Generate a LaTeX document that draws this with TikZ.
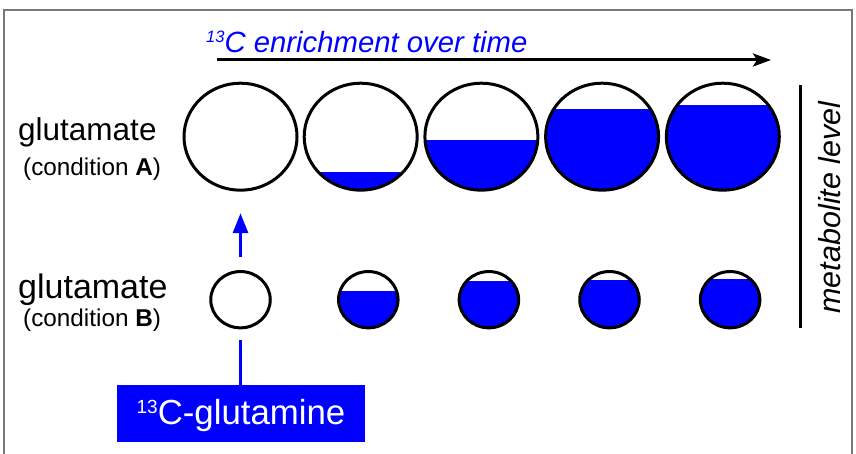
\documentclass[tikz,border=0pt]{standalone}
\usepackage{fontspec}
\setmainfont{Liberation Sans}
\usetikzlibrary{shapes.geometric,arrows.meta}
\definecolor{pureblue}{RGB}{0,0,255}
\definecolor{framegray}{RGB}{120,120,120}
\begin{document}
\begin{tikzpicture}[x=1pt,y=1pt,
  cellA/.style={ellipse, draw, line width=3pt, inner sep=0pt, minimum width=113pt, minimum height=107pt},
  cellB/.style={ellipse, draw, line width=3pt, inner sep=0pt, minimum width=59.5pt, minimum height=56.3pt},
  level/.style={path picture={\fill[pureblue] ([xshift=-5pt]path picture bounding box.south west) rectangle ([xshift=5pt,yshift=#1pt]path picture bounding box.south east);}},
  lbl/.style={anchor=base west, inner sep=0pt, text=black},
  bluelink/.style={pureblue, line width=3pt}
]
\useasboundingbox (0,0) rectangle (856,454);
\draw[framegray, line width=2pt] (4,-5) -- (4,444) -- (852,444) -- (852,-5);

% title and time arrow
\node[anchor=base west, inner sep=0pt, text=pureblue, font=\fontsize{29.3}{31}\selectfont\itshape] (title) at (206,401.5)
  {\raisebox{10pt}{\fontsize{16.5}{16.5}\selectfont 13}C enrichment over time};
\coordinate (ts) at (217,394);
\coordinate (te) at (771,394);
\draw[line width=3pt, -{Stealth[length=18pt,width=13pt,inset=4pt]}] (ts) -- (te);

% row labels
\node[lbl, font=\fontsize{31.5}{34}\selectfont] (gA) at (18,313) {glutamate};
\node[lbl, font=\fontsize{24.3}{26}\selectfont] (cA) at (23,278) {(condition \textbf{A})};
\node[lbl, font=\fontsize{34}{36}\selectfont] (gB) at (18,155) {glutamate};
\node[lbl, font=\fontsize{24.3}{26}\selectfont] (cB) at (23,127) {(condition \textbf{B})};

% condition A circles
\node[cellA] (A1) at (240.5,317.3) {};
\node[cellA, level=18.5] (A2) at (360.7,317.3) {};
\node[cellA, level=50.2] (A3) at (481.4,317.3) {};
\node[cellA, level=80.9] (A4) at (602.1,317.3) {};
\node[cellA, level=85.2] (A5) at (722.8,317.3) {};

% condition B circles
\node[cellB] (B1) at (240.5,154.3) {};
\node[cellB, level=36.8] (B2) at (368.3,154.3) {};
\node[cellB, level=46.8] (B3) at (488.9,154.3) {};
\node[cellB, level=47.8] (B4) at (609.5,154.3) {};
\node[cellB, level=49.1] (B5) at (730.1,154.3) {};

% metabolite level
\coordinate (v0) at (800,369);
\coordinate (v1) at (800,125.7);
\draw[line width=3pt] (v0) -- (v1);
\node[rotate=90, anchor=base, inner sep=0pt, font=\fontsize{30.5}{32}\selectfont\itshape] (met) at (840.5,246.5) {metabolite level};

% 13C-glutamine box
\node[fill=pureblue, text=white, minimum width=247.7pt, minimum height=56.7pt, inner sep=0pt,
  text height=28pt, text depth=4.6pt, font=\fontsize{34.8}{37}\selectfont] (gln) at (241,40.7)
  {\raisebox{11pt}{\fontsize{19}{19}\selectfont 13}C-glutamine};

% tracer connectors
\draw[bluelink] (B1.south |- gln.north) -- ([yshift=-11pt]B1.south);
\draw[bluelink, -{Triangle[length=20pt,width=15pt]}] ([yshift=13.5pt]B1.north) -- ([yshift=-21.5pt]A1.south);
\end{tikzpicture}
\end{document}
